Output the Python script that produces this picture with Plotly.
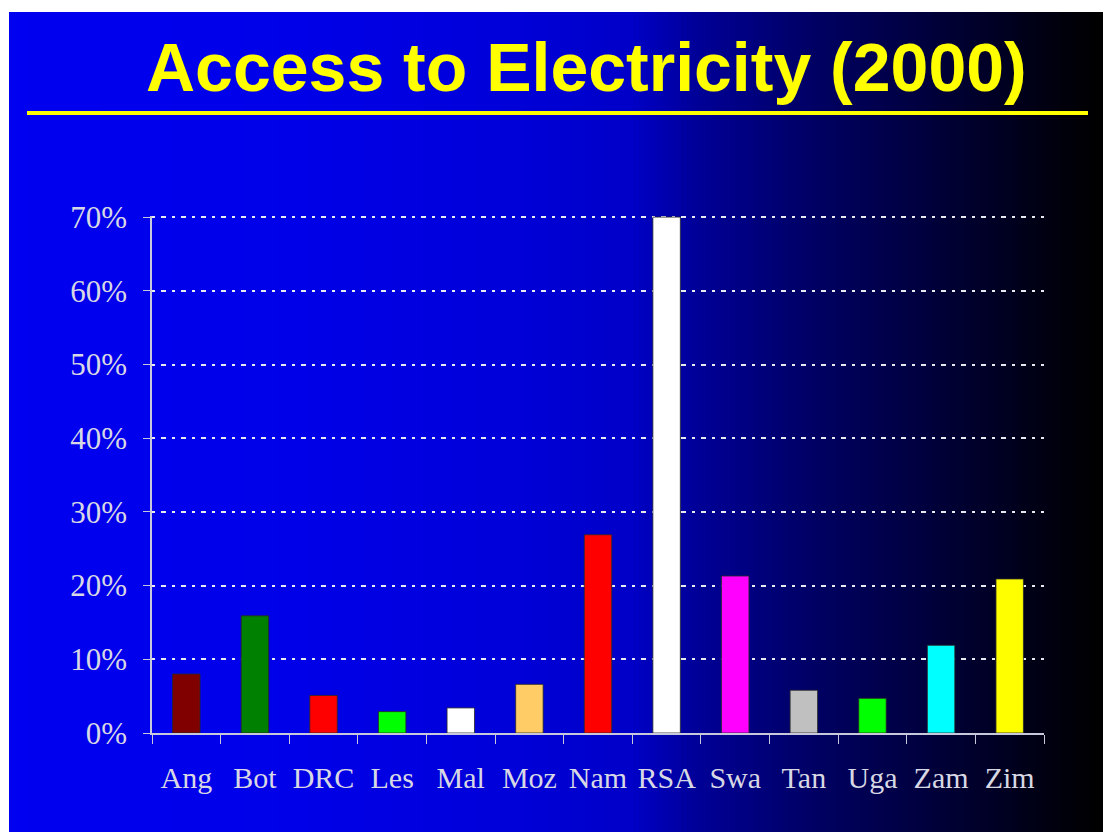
import plotly.graph_objects as go

# ---- data ----
countries = ["Ang", "Bot", "DRC", "Les", "Mal", "Moz", "Nam", "RSA", "Swa", "Tan", "Uga", "Zam", "Zim"]
access_pct = [8.0, 15.9, 5.1, 2.9, 3.4, 6.6, 26.9, 70.0, 21.3, 5.8, 4.7, 11.9, 20.9]
bar_colors = ["#800000", "#008000", "#FF0000", "#00FF00", "#FFFFFF", "#FFCC66", "#FF0000",
              "#FFFFFF", "#FF00FF", "#C0C0C0", "#00FF00", "#00FFFF", "#FFFF00"]
y_tickvals = [0, 10, 20, 30, 40, 50, 60, 70]
y_ticktext = ["0%", "10%", "20%", "30%", "40%", "50%", "60%", "70%"]
title_text = "Access to Electricity (2000)"

# ---- layout geometry (pixels) ----
W, H = 1103, 832
PL, PR, PT, PB = 152, 1044, 216, 733  # plot area edges
Y_MAX = 70.15


def px_x(px):
    return (px - PL) / (PR - PL)


def px_y(py):
    return (PB - py) / (PB - PT)


# background gradient stops (pixel x -> blue level)
grad_stops = [(9, 240), (300, 232), (500, 218), (630, 200), (700, 150), (800, 105),
              (900, 70), (1000, 35), (1060, 12), (1103, 0)]


def blue_at(x):
    for (x0, b0), (x1, b1) in zip(grad_stops[:-1], grad_stops[1:]):
        if x0 <= x <= x1:
            return b0 + (b1 - b0) * (x - x0) / (x1 - x0)
    return grad_stops[-1][1]


shapes = []
step = 6
x = 9
while x < W:
    x2 = min(x + step, W)
    b = int(round(blue_at((x + x2) / 2)))
    shapes.append(dict(type="rect", xref="paper", yref="paper",
                       x0=px_x(x), x1=px_x(x2 + 0.5), y0=px_y(H), y1=px_y(12),
                       fillcolor=f"rgb(0,0,{b})", line=dict(width=0), layer="below"))
    x = x2

# yellow rule under the title
shapes.append(dict(type="line", xref="paper", yref="paper",
                   x0=px_x(27), x1=px_x(1088), y0=px_y(113), y1=px_y(113),
                   line=dict(color="#FFFF00", width=4), layer="above"))

fig = go.Figure(go.Bar(
    x=countries, y=access_pct,
    marker=dict(color=bar_colors, line=dict(color="rgba(40,40,40,0.8)", width=1)),
    width=0.4,
))

x_font = dict(family="Liberation Serif, Times New Roman, serif", size=30, color="#D8D8E4")
y_font = dict(family="Liberation Serif, Times New Roman, serif", size=31, color="#D8D8E4")

fig.update_layout(
    width=W, height=H,
    margin=dict(l=PL, r=W - PR, t=PT, b=H - PB, pad=0),
    paper_bgcolor="white",
    plot_bgcolor="rgba(0,0,0,0)",
    showlegend=False,
    shapes=shapes,
    annotations=[dict(text=title_text, xref="paper", yref="paper",
                      x=px_x(586), y=px_y(67), xanchor="center", yanchor="middle",
                      showarrow=False,
                      font=dict(family="Liberation Sans, Arial, sans-serif", size=68,
                                color="#FFFF00", weight="bold"))],
    xaxis=dict(
        type="category",
        showgrid=False,
        showline=True, linecolor="#C8C8DC", linewidth=2,
        ticks="outside", tickson="boundaries", ticklen=9, tickcolor="#C8C8DC", tickwidth=1,
        tickfont=x_font, ticklabelstandoff=17, tickangle=0,
        zeroline=False,
        range=[-0.5, len(countries) - 0.5],
    ),
    yaxis=dict(
        range=[0, Y_MAX],
        tickvals=y_tickvals, ticktext=y_ticktext,
        showgrid=True, gridcolor="#E8E8F0", gridwidth=2, griddash="3px,6px,5px,6px",
        showline=True, linecolor="#C8C8DC", linewidth=1.5,
        ticks="outside", ticklen=7, tickcolor="#C8C8DC",
        tickfont=y_font, ticklabelstandoff=10,
        zeroline=False,
    ),
)

fig.write_html("out.html")
